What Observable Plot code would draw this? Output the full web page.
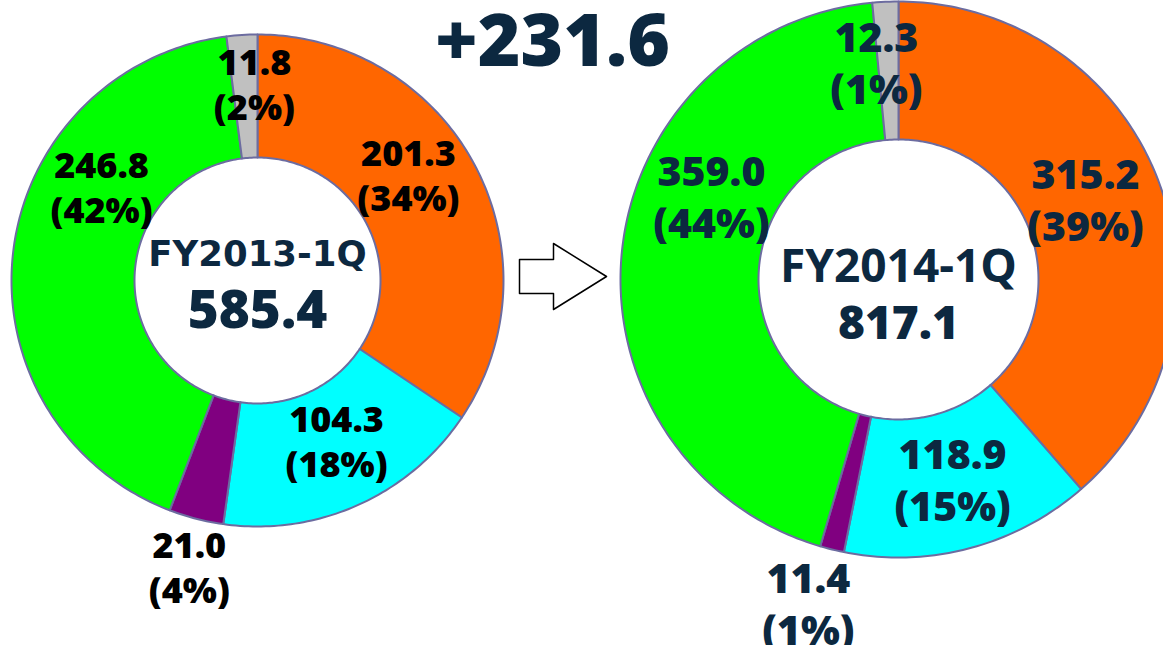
<!DOCTYPE html>
<html><head><meta charset="utf-8">
<script src="https://cdn.jsdelivr.net/npm/d3@7"></script>
<script src="https://cdn.jsdelivr.net/npm/@observablehq/plot@0.6"></script>
<style>body{margin:0;background:#fff;overflow:hidden}</style>
</head><body><div id="chart"></div>
<script>
// ---- DATA ----
const segments = ["orange", "cyan", "purple", "green", "gray"];
const segmentColors = ["#ff6600", "#00ffff", "#800080", "#00ff00", "#c0c0c0"];
const periods = ["FY2013-1Q", "FY2014-1Q"];
const totals = [585.4, 817.1];
const values2013 = [201.3, 104.3, 21.0, 246.8, 11.8];
const values2014 = [315.2, 118.9, 11.4, 359.0, 12.3];
const shares2013 = [34, 18, 4, 42, 2];
const shares2014 = [39, 15, 1, 44, 1];
const changeLabel = "+231.6";

// ---- LAYOUT (pixels) ----
const W = 1163, H = 645;
const donutLayout = [
  {cx: 257, cy: 280, R: 246, r: 123, labelFont: 36, labelLH: 1.24, labelColor: "#000000",
   fyFont: 35.5, fyFamily: "DejaVu Sans", fyY: 254, totFont: 53, totY: 311,
   labelPolar: [[54.9, 184.5], [153.7, 178.4], [193.4, 294], [301.1, 182.1], [359.1, 197]]},
  {cx: 898, cy: 279, R: 278, r: 140, labelFont: 41, labelLH: 1.26, labelColor: "#0c2840",
   fyFont: 46, fyFamily: "Open Sans", fyY: 267, totFont: 46, totY: 324,
   labelPolar: [[66.6, 203.8], [164.8, 206.2], [195.6, 335.3], [294.2, 205], [354.2, 219.1]]}
];
const navy = "#0c2840";
const edge = "#6c6ca0";
const heavy = 800;
const arrowGeom = {x0: 519, x1: 553, x2: 606, yc: 276, shaftHalf: 17, headHalf: 33};
const changePos = {x: 552, y: 42, size: 73};

const valueSets = [values2013, values2014];
const shareSets = [shares2013, shares2014];

// ---- BUILD ----
const slicePts = [];
const labels = [];
const centers = [];
valueSets.forEach((vals, di) => {
  const L = donutLayout[di];
  const arcs = d3.pie().sort(null).value(v => v)(vals);
  arcs.forEach((p, i) => {
    const id = periods[di] + "-" + segments[i];
    const n = Math.max(2, Math.ceil((p.endAngle - p.startAngle) * 180 / Math.PI));
    for (let k = 0; k <= n; k++) {
      const a = p.startAngle + (p.endAngle - p.startAngle) * k / n;
      slicePts.push({id, color: segmentColors[i], x: L.cx + L.R * Math.sin(a), y: L.cy - L.R * Math.cos(a)});
    }
    for (let k = n; k >= 0; k--) {
      const a = p.startAngle + (p.endAngle - p.startAngle) * k / n;
      slicePts.push({id, color: segmentColors[i], x: L.cx + L.r * Math.sin(a), y: L.cy - L.r * Math.cos(a)});
    }
    const [ang, rad] = L.labelPolar[i];
    const t = ang * Math.PI / 180;
    labels.push({di, text: vals[i].toFixed(1) + "\n(" + shareSets[di][i] + "%)",
      x: L.cx + rad * Math.sin(t), y: L.cy - rad * Math.cos(t)});
  });
  centers.push({di, text: periods[di], x: L.cx, y: L.fyY, kind: "fy"});
  centers.push({di, text: totals[di].toFixed(1), x: L.cx, y: L.totY, kind: "tot"});
});

const A = arrowGeom;
const arrowPts = [
  [A.x0, A.yc - A.shaftHalf], [A.x1, A.yc - A.shaftHalf], [A.x1, A.yc - A.headHalf],
  [A.x2, A.yc], [A.x1, A.yc + A.headHalf], [A.x1, A.yc + A.shaftHalf], [A.x0, A.yc + A.shaftHalf]
].map(([x, y]) => ({x, y}));

const marks = [
  Plot.line(slicePts, {x: "x", y: "y", z: "id", fill: "color", stroke: edge, strokeWidth: 2,
    strokeLinejoin: "round", curve: "linear-closed"}),
  Plot.line(arrowPts, {x: "x", y: "y", fill: "white", stroke: "#000", strokeWidth: 1.5,
    curve: "linear-closed"}),
  Plot.text([changeLabel], {x: () => changePos.x, y: () => changePos.y, text: d => d,
    fontSize: changePos.size, fontWeight: heavy, fontFamily: "Open Sans", fill: navy})
];
donutLayout.forEach((L, di) => {
  marks.push(Plot.text(labels.filter(d => d.di === di), {x: "x", y: "y", text: "text",
    fontSize: L.labelFont, lineHeight: L.labelLH, fontWeight: heavy, fontFamily: "Open Sans",
    fill: L.labelColor}));
  marks.push(Plot.text(centers.filter(d => d.di === di && d.kind === "fy"), {x: "x", y: "y", text: "text",
    fontSize: L.fyFont, fontWeight: "bold", fontFamily: L.fyFamily, fill: navy}));
  marks.push(Plot.text(centers.filter(d => d.di === di && d.kind === "tot"), {x: "x", y: "y", text: "text",
    fontSize: L.totFont, fontWeight: heavy, fontFamily: "Open Sans", fill: navy}));
});

const chart = Plot.plot({
  width: W, height: H, margin: 0,
  x: {domain: [0, W], range: [0, W], axis: null},
  y: {domain: [0, H], range: [0, H], axis: null},
  color: {type: "identity"},
  style: {background: "white", overflow: "visible"},
  marks
});
document.getElementById("chart").append(chart);
</script>
</body></html>
